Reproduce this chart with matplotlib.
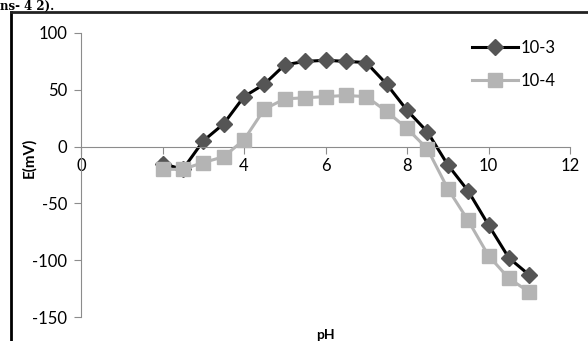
import matplotlib
matplotlib.use("Agg")
import matplotlib.pyplot as plt
from matplotlib.lines import Line2D

ph = [2, 2.5, 3, 3.5, 4, 4.5, 5, 5.5, 6, 6.5, 7, 7.5, 8, 8.5, 9, 9.5, 10, 10.5, 11]
e_1e3 = [-15, -20, 5, 20, 44, 55, 72, 75, 76, 75, 74, 55, 32, 13, -16, -39, -69, -98, -113]
e_1e4 = [-20, -20, -14, -9, 6, 33, 42, 43, 44, 45, 44, 31, 16, -2, -37, -65, -96, -116, -128]
labels = ["10-3", "10-4"]
xticks = [0, 2, 4, 6, 8, 10, 12]
yticks = [-150, -100, -50, 0, 50, 100]

plt.rcParams['font.family'] = ['Lato', 'DejaVu Sans']
plt.rcParams['axes.unicode_minus'] = False

fig = plt.figure(figsize=(5.88, 3.41), dpi=100)
ax = fig.add_axes([81 / 588, 1 - 317 / 341, 489 / 588, 284 / 341])

ax.plot(ph, e_1e3, color='black', lw=2.2, marker='D', ms=8,
        mfc='#555555', mec='#555555', label=labels[0], zorder=2)
ax.plot(ph, e_1e4, color='#b4b4b4', lw=2.2, marker='s', ms=10.5,
        mfc='#b4b4b4', mec='#b4b4b4', label=labels[1], zorder=3)

ax.set_xlim(0, 12)
ax.set_ylim(-150, 100)
ax.set_xticks(xticks)
ax.set_yticks(yticks)

axis_col = '#8c8c8c'
ax.spines['top'].set_visible(False)
ax.spines['right'].set_visible(False)
ax.spines['bottom'].set_position(('data', 0))
ax.spines['bottom'].set_color(axis_col)
ax.spines['left'].set_color(axis_col)
ax.tick_params(axis='x', direction='out', length=5, color=axis_col, labelsize=12, pad=3)
ax.tick_params(axis='y', direction='out', length=5, color=axis_col, labelsize=12, pad=5)

ax.set_ylabel("E(mV)", fontsize=11, fontweight='bold')
ax.yaxis.set_label_coords(-0.092, 0.56)
fig.text(325 / 588, 1 - 335 / 341, "pH", fontsize=10, fontweight='bold',
         ha='center', va='center')

ax.legend(loc='upper right', bbox_to_anchor=(0.985, 1.0), frameon=False,
          fontsize=12, handlelength=2.8, handletextpad=0.15, labelspacing=1.05,
          borderaxespad=0)

# chart frame (only top and left visible in the crop)
fig.add_artist(Line2D([11 / 588, 11 / 588], [0, 1 - 12 / 341], transform=fig.transFigure,
                      color='black', lw=2))
fig.add_artist(Line2D([11 / 588, 1], [1 - 12 / 341, 1 - 12 / 341], transform=fig.transFigure,
                      color='#222222', lw=2))

# text from the page above the chart
fig.text(0.0, 1 - 10 / 341, "ns- 4 2).", fontsize=8.5, fontweight='bold',
         family='DejaVu Serif', ha='left', va='baseline')

fig.savefig("out.png", dpi=100)
